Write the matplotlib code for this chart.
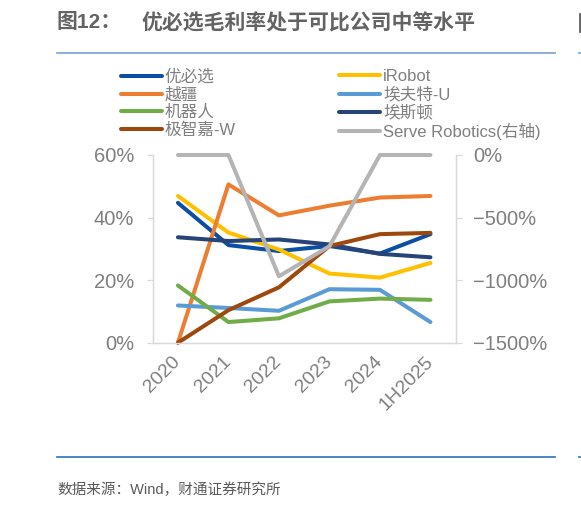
import matplotlib
matplotlib.use('Agg')
import matplotlib.pyplot as plt
from matplotlib.lines import Line2D

plt.rcParams['font.family'] = ['Liberation Sans', 'Noto Sans CJK SC']
plt.rcParams['axes.unicode_minus'] = True

years = ['2020', '2021', '2022', '2023', '2024', '1H2025']

# gross margin, %
ubtech = [44.7, 31.2, 29.3, 30.9, 28.5, 34.7]
irobot = [46.9, 35.2, 29.8, 22.1, 20.8, 25.5]
dobot = [0.0, 50.6, 40.7, 43.8, 46.4, 46.9]
efort = [11.9, 11.1, 10.2, 17.1, 16.9, 6.6]
siasun = [18.3, 6.6, 7.8, 13.2, 14.1, 13.7]
estun = [33.7, 32.5, 33.0, 31.4, 28.4, 27.3]
geekplus = [0.0, 10.4, 17.7, 30.9, 34.7, 35.1]
# right axis
serve = [0.0, 0.0, -969.0, -729.0, 0.0, 0.0]

left_series = [
    ('优必选', ubtech, '#0b4ea2'),
    ('iRobot', irobot, '#ffc000'),
    ('越疆', dobot, '#ed7d31'),
    ('埃夫特-U', efort, '#5b9bd5'),
    ('机器人', siasun, '#70ad47'),
    ('埃斯顿', estun, '#264478'),
    ('极智嘉-W', geekplus, '#9e480e'),
]
serve_label = 'Serve Robotics(右轴)'
serve_color = '#b4b4b4'

text_gray = '#7f7f7f'
axis_gray = '#d9d9d9'
lw = 2.9

fig = plt.figure(figsize=(5.81, 5.09), dpi=100)
ax = fig.add_axes([0.2628, 0.3267, 0.5215, 0.3688])
ax2 = ax.twinx()

x = list(range(len(years)))
handles = {}
for name, vals, color in left_series:
    line, = ax.plot(x, vals, color=color, lw=lw, clip_on=False,
                    solid_capstyle='round', solid_joinstyle='round')
    handles[name] = line
line, = ax2.plot(x, serve, color=serve_color, lw=lw, clip_on=False,
                 solid_capstyle='round', solid_joinstyle='round')
handles[serve_label] = line

ax.set_xlim(-0.5, len(years) - 0.5)
ax.set_ylim(0, 60)
ax.set_yticks([0, 20, 40, 60])
ax.set_yticklabels(['0%', '20%', '40%', '60%'])
ax2.set_ylim(-1500, 0)
ax2.set_yticks([0, -500, -1000, -1500])
ax2.set_yticklabels(['0%', '\u2212500%', '\u22121000%', '\u22121500%'])

ax.set_xticks(x)
ax.set_xticklabels(years, rotation=45, ha='right', va='center',
                   rotation_mode='anchor')

for a in (ax, ax2):
    a.spines['top'].set_visible(False)
    for s in ('left', 'right', 'bottom'):
        a.spines[s].set_color(axis_gray)
        a.spines[s].set_linewidth(0.9)
    a.tick_params(axis='y', colors=axis_gray, labelcolor=text_gray,
                  labelsize=14.5, length=4.5, width=0.9)
ax.tick_params(axis='y', pad=9)
ax2.tick_params(axis='y', pad=8)
ax.tick_params(axis='x', length=0, labelcolor=text_gray, labelsize=14, pad=12)

# legend in two columns
col1 = ['优必选', '越疆', '机器人', '极智嘉-W']
col2 = ['iRobot', '埃夫特-U', '埃斯顿', serve_label]
leg_kw = dict(frameon=False, fontsize=12, handlelength=2.45,
              handletextpad=0.2, labelspacing=0.14, borderpad=0,
              borderaxespad=0, loc='upper left', labelcolor=text_gray)
leg1 = fig.legend([handles[n] for n in col1], col1,
                  bbox_to_anchor=(0.2077, 0.864), **leg_kw)
leg2 = fig.legend([handles[n] for n in col2], col2,
                  bbox_to_anchor=(0.5835, 0.864), **leg_kw)

# title, rules and source
title_color = '#636363'
fig.text(0.098, 0.955, '图12：', fontsize=15, fontweight='bold',
         color=title_color, va='center', ha='left')
fig.text(0.2444, 0.955, '优必选毛利率处于可比公司中等水平', fontsize=15,
         fontweight='bold', color=title_color, va='center', ha='left')
fig.add_artist(Line2D([0.098, 0.955], [0.8953, 0.8953], color='#7aa0d4',
                      lw=1.2, transform=fig.transFigure))
fig.add_artist(Line2D([0.098, 0.955], [0.102, 0.102], color='#2e6fbd',
                      lw=1.2, transform=fig.transFigure))
# edge of the neighbouring figure
fig.add_artist(Line2D([0.9965, 1.0], [0.8953, 0.8953], color='#7aa0d4',
                      lw=1.2, transform=fig.transFigure))
fig.add_artist(Line2D([0.9965, 1.0], [0.102, 0.102], color='#2e6fbd',
                      lw=1.2, transform=fig.transFigure))
fig.add_artist(Line2D([0.9975, 0.9975], [0.94, 0.972], color=title_color,
                      lw=2.0, transform=fig.transFigure))
fig.text(0.098, 0.037, '数据来源：Wind，财通证券研究所', fontsize=10.5,
         color='#595959', va='center', ha='left')

fig.savefig('out.png', dpi=100)
